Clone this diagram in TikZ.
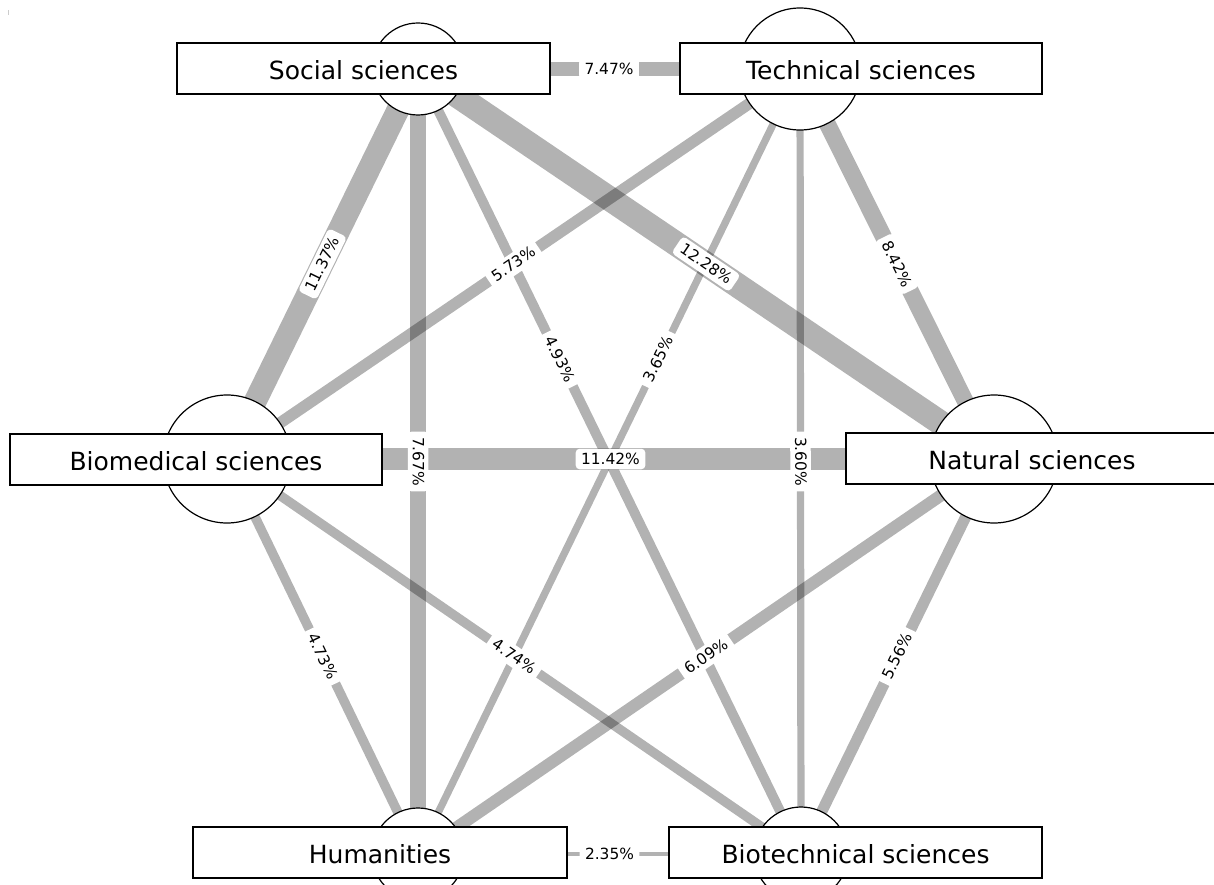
\documentclass[tikz,border=0pt]{standalone}
\usepackage{fontspec}
\setmainfont{DejaVu Sans}
\pgfdeclarelayer{background}
\pgfsetlayers{background,main}
\tikzset{
  hub/.style={circle, draw=black, fill=white, line width=1.2pt, inner sep=0pt, minimum size=#1},
  field/.style={rectangle, draw=black, fill=white, line width=2pt, minimum height=51pt, minimum width=#1, inner sep=0pt, text height=22pt, text depth=0pt, font=\fontsize{25}{30}\selectfont},
  link/.style={draw=black, draw opacity=0.3, line width=2*#1pt},
  pct/.style={fill=white, rounded corners=4pt, inner xsep=5.5pt, inner ysep=4pt, sloped, font=\fontsize{15.4}{18}\selectfont, text height=11.5pt, text depth=1pt}
}
\begin{document}
\begin{tikzpicture}[x=1pt,y=-1pt]
\useasboundingbox (0,0) rectangle (1214,885);
% tiny tick in the corner
\draw[gray!40, line width=1pt] (8.5,10.5) -- (8.5,15);
% hubs
\node[hub=92pt]  (S)  at (418,69)  {};
\node[hub=122pt] (T)  at (800,69)  {};
\node[hub=128pt] (B)  at (227,459) {};
\node[hub=128pt] (N)  at (994,459) {};
\node[hub=92pt]  (H)  at (418,854) {};
\node[hub=94pt]  (BT) at (801,854) {};
% connectors
\begin{pgfonlayer}{background}
\draw[link=7.47]  (S.center) -- (T.center);
\draw[link=11.37] (S.center) -- (B.center);
\draw[link=5.73]  (T.center) -- (B.center);
\draw[link=12.28] (S.center) -- (N.center);
\draw[link=8.42]  (T.center) -- (N.center);
\draw[link=4.93]  (S.center) -- (BT.center);
\draw[link=3.65]  (T.center) -- (H.center);
\draw[link=7.67]  (S.center) -- (H.center);
\draw[link=3.60]  (T.center) -- (BT.center);
\draw[link=11.42] (B.center) -- (N.center);
\draw[link=4.73]  (B.center) -- (H.center);
\draw[link=4.74]  (B.center) -- (BT.center);
\draw[link=6.09]  (N.center) -- (H.center);
\draw[link=5.56]  (N.center) -- (BT.center);
\draw[link=2.35]  (H.center) -- (BT.center);
% labels
\path (S.center) -- (T.center)  node[pct, pos=.5]  (lST)  {7.47\%};
\path (S.center) -- (B.center)  node[pct, pos=.5]  (lSB)  {11.37\%};
\path (T.center) -- (B.center)  node[pct, pos=.5]  (lTB)  {5.73\%};
\path (S.center) -- (N.center)  node[pct, pos=.5]  (lSN)  {12.28\%};
\path (T.center) -- (N.center)  node[pct, pos=.5]  (lTN)  {8.42\%};
\path (S.center) -- (BT.center) node[pct, pos=.37] (lSBT) {4.93\%};
\path (T.center) -- (H.center)  node[pct, pos=.37] (lTH)  {3.65\%};
\path (S.center) -- (H.center)  node[pct, pos=.5]  (lSH)  {7.67\%};
\path (T.center) -- (BT.center) node[pct, pos=.5]  (lTBT) {3.60\%};
\path (B.center) -- (N.center)  node[pct, pos=.5]  (lBN)  {11.42\%};
\path (B.center) -- (H.center)  node[pct, pos=.5]  (lBH)  {4.73\%};
\path (B.center) -- (BT.center) node[pct, pos=.5]  (lBBT) {4.74\%};
\path (N.center) -- (H.center)  node[pct, pos=.5]  (lNH)  {6.09\%};
\path (N.center) -- (BT.center) node[pct, pos=.5]  (lNBT) {5.56\%};
\path (H.center) -- (BT.center) node[pct, pos=.5]  (lHBT) {2.35\%};
\end{pgfonlayer}
% name boxes
\node[field=373pt] (SL)  at (363.5,69)   {Social sciences};
\node[field=362pt] (TL)  at (861,68.5)   {Technical sciences};
\node[field=372pt] (BL)  at (196,459.5)  {Biomedical sciences};
\node[field=372pt] (NL)  at (1032,458.5) {Natural sciences};
\node[field=374pt] (HL)  at (380,852.5)  {Humanities};
\node[field=373pt] (BTL) at (855.5,852.5){Biotechnical sciences};
\end{tikzpicture}
\end{document}
